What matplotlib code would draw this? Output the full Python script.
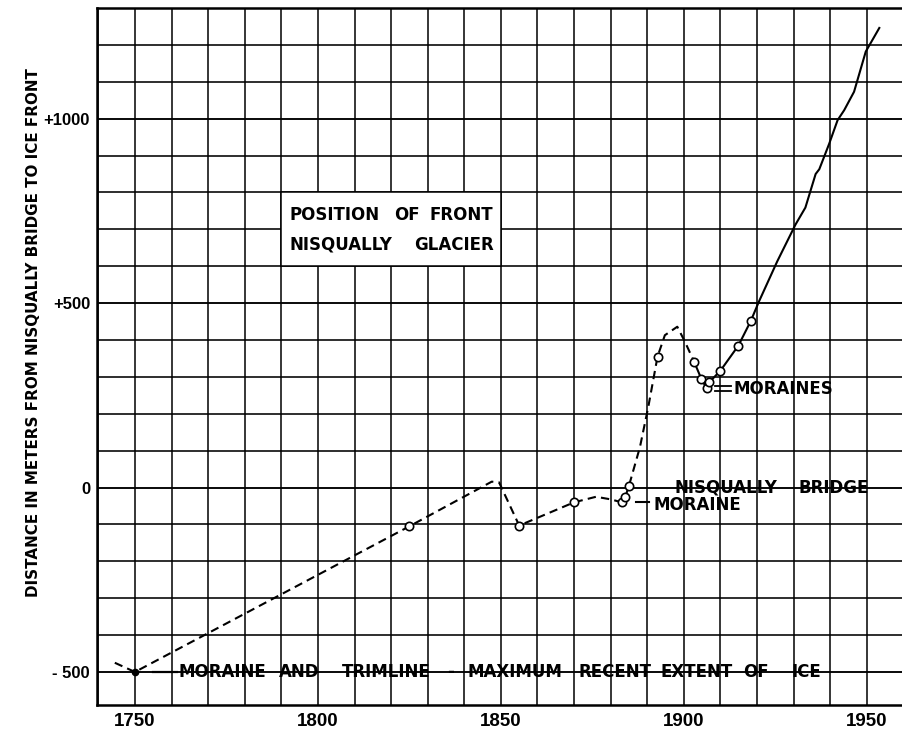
import matplotlib.pyplot as plt
from matplotlib.patches import Rectangle

# dashed part of the curve (estimated front positions)
dash_years = [1744.5, 1750, 1825, 1847.5, 1849.5, 1855, 1870, 1876, 1880, 1883, 1884, 1885,
              1888, 1890.3, 1892.8, 1894.8, 1898.2, 1900.3, 1902.8]
dash_values = [-475, -500, -105, 16, 14, -103, -40, -25, -32, -40, -25, 5,
               110, 220, 355, 413, 436, 395, 341]

# solid part (measured)
solid_years = [1902.8, 1904.8, 1906.2, 1906.9, 1910, 1914.9, 1918.3, 1920.5, 1925.5, 1930.5,
               1933.2, 1936, 1937, 1939.7, 1942, 1943.8, 1946.5, 1949.7, 1953.4]
solid_values = [341, 294, 269, 285, 317, 385, 452, 504, 613, 713,
                759, 850, 863, 932, 996, 1023, 1073, 1182, 1246]

# observation points (open circles)
obs_years = [1825, 1855, 1870, 1883, 1884, 1885, 1892.8, 1902.8, 1904.8, 1906.2, 1906.9,
             1910, 1914.9, 1918.3]
obs_values = [-105, -103, -40, -40, -25, 5, 355, 341, 294, 269, 285, 317, 385, 452]

x_ticks = [1750, 1800, 1850, 1900, 1950]
y_ticks = [-500, 0, 500, 1000]
y_tick_labels = ['- 500', '0', '+500', '+1000']

plt.rcParams['font.family'] = 'DejaVu Sans'
plt.rcParams['font.weight'] = 'bold'
FS = 12

fig = plt.figure(figsize=(9.02, 7.3), dpi=100)
ax = fig.add_axes([0.1072, 0.034, 0.8928, 0.955])
ax.set_xlim(1739.55, 1959.6)
ax.set_ylim(-590, 1300)

# 网格：每 10 年、每 100 米
for x in range(1740, 1960, 10):
    ax.axvline(x, color='black', lw=1.1, zorder=1)
for y in range(-500, 1300, 100):
    ax.axhline(y, color='black', lw=1.15 if y % 500 else 1.35, zorder=1)

# title box
ax.add_patch(Rectangle((1790, 600), 60, 200, facecolor='white', edgecolor='black', lw=1.1, zorder=2))
for word, x in [('POSITION', 1792.3), ('OF', 1820.9), ('FRONT', 1830.5)]:
    ax.text(x, 740, word, fontsize=FS, va='center', zorder=3)
for word, x in [('NISQUALLY', 1792.3), ('GLACIER', 1826.4)]:
    ax.text(x, 658, word, fontsize=FS, va='center', zorder=3)

# curve
ax.plot(dash_years, dash_values, color='black', lw=1.5, dashes=(4, 2.5), zorder=4)
ax.plot(solid_years, solid_values, color='black', lw=1.5, zorder=4)
ax.plot(obs_years, obs_values, 'o', mfc='white', mec='black', mew=1.2, ms=6, zorder=5)
ax.plot([1750], [-500], 'o', color='black', ms=4.5, zorder=5)

# annotations
ax.plot([1755, 1761.5], [-500, -500], color='black', lw=1.6, zorder=3)
trim_words = [('MORAINE', 1762.0), ('AND', 1789.4), ('TRIMLINE', 1806.5), ('-', 1835.4),
              ('MAXIMUM', 1840.8), ('RECENT', 1871.2), ('EXTENT', 1893.5), ('OF', 1916.1),
              ('ICE', 1929.5)]
for word, x in trim_words:
    ax.text(x, -500, word, fontsize=FS, va='center', zorder=3)

ax.plot([1887, 1890.5], [-39, -39], color='black', lw=1.5, zorder=3)
ax.text(1891.8, -47, 'MORAINE', fontsize=FS, va='center', zorder=3)
ax.text(1897.3, 0, 'NISQUALLY', fontsize=FS, va='center', zorder=3)
ax.text(1931.4, 0, 'BRIDGE', fontsize=FS, va='center', zorder=3)
ax.plot([1908.5, 1912.8], [274, 274], color='black', lw=1.3, zorder=3)
ax.plot([1908.5, 1912.8], [261, 261], color='black', lw=1.3, zorder=3)
ax.text(1913.6, 268, 'MORAINES', fontsize=FS, va='center', zorder=3)

ax.set_xticks(x_ticks)
ax.set_xticklabels([str(v) for v in x_ticks], fontsize=13.5, fontweight='bold',
                   family='Liberation Sans')
ax.set_yticks(y_ticks)
ax.set_yticklabels(y_tick_labels, fontsize=12, fontweight='bold', family='Liberation Sans')
ax.tick_params(axis='x', length=0, pad=5.5)
ax.tick_params(axis='y', length=0, pad=4.8)
ax.set_ylabel('DISTANCE IN METERS FROM NISQUALLY BRIDGE TO ICE FRONT', fontsize=10.9,
              fontweight='bold')
ax.yaxis.set_label_coords(-0.069, 0.534)

for side in ['left', 'bottom', 'top']:
    ax.spines[side].set_linewidth(1.8)
ax.spines['right'].set_visible(False)

plt.savefig('out.png', dpi=100)
